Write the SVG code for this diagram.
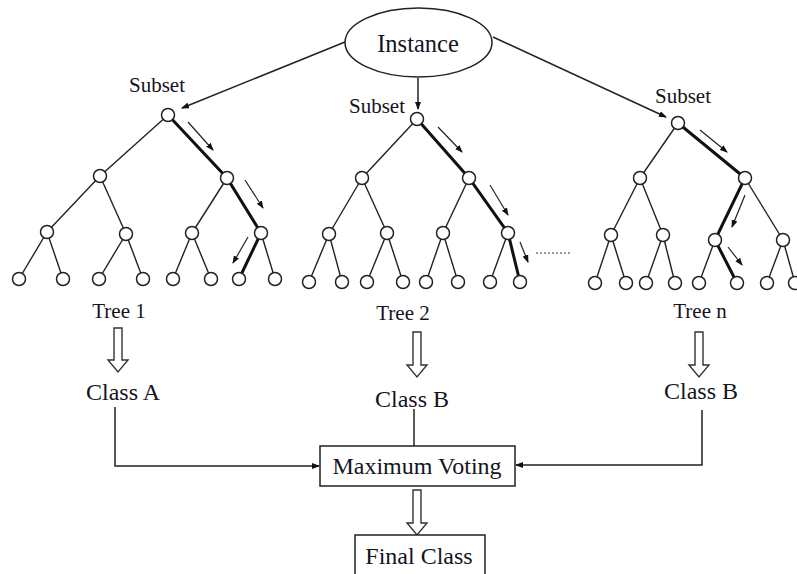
<svg xmlns="http://www.w3.org/2000/svg" width="797" height="574" viewBox="0 0 797 574">
<defs>
<style>
.t{font-family:"Liberation Serif","Times New Roman",serif;fill:#141420}
.e{stroke:#222;stroke-width:1.4;fill:none}
.k{stroke:#111;stroke-width:3;fill:none}
.n{fill:#fff;stroke:#222;stroke-width:1.5}
.s{stroke:#222;stroke-width:1.2;fill:none;marker-end:url(#sa)}
.c{stroke:#222;stroke-width:1.5;fill:none}
.h{fill:#fff;stroke:#333;stroke-width:1.4}
</style>
<marker id="sa" markerWidth="8" markerHeight="6" refX="7" refY="3" orient="auto" markerUnits="userSpaceOnUse">
<path d="M0,0 L8,3 L0,6 Z" fill="#111"/>
</marker>
<marker id="ca" markerWidth="8" markerHeight="6" refX="7" refY="3" orient="auto" markerUnits="userSpaceOnUse">
<path d="M0,0 L8,3 L0,6 Z" fill="#111"/>
</marker>
</defs>
<rect width="797" height="574" fill="#fff"/>

<g id="connectors">
<line class="c" x1="345" y1="42" x2="182" y2="108" marker-end="url(#ca)"/>
<line class="c" x1="418" y1="78" x2="418" y2="109" marker-end="url(#ca)"/>
<line class="c" x1="493" y1="37" x2="666" y2="117" marker-end="url(#ca)"/>
<polyline class="c" points="115,407 115,466 319,466" marker-end="url(#ca)"/>
<line class="c" x1="414" y1="409" x2="414" y2="446"/>
<polyline class="c" points="702,410 702,465 516,465" marker-end="url(#ca)"/>
<path class="h" d="M114,328 H122 V360 H128 L118,372 L108,360 H114 Z"/>
<path class="h" d="M413,332 H421 V365 H427 L417,377 L407,365 H413 Z"/>
<path class="h" d="M695,332 H703 V365 H709 L699,377 L689,365 H695 Z"/>
<path class="h" d="M413,490 H421 V523 H427 L417,535 L407,523 H413 Z"/>
<line x1="536" y1="253" x2="570" y2="253" stroke="#333" stroke-width="1.2" stroke-dasharray="2,2"/>
</g>

<g id="instance">
<ellipse cx="418.5" cy="42.5" rx="73.5" ry="34.5" fill="#fff" stroke="#222" stroke-width="1.5"/>
<text class="t" x="418" y="52" font-size="24.5" text-anchor="middle">Instance</text>
</g>

<g id="tree1">
<text class="t" x="157" y="92" font-size="21" text-anchor="middle">Subset</text>
<g class="e">
<line x1="168" y1="115" x2="100" y2="176"/>
<line x1="100" y1="176" x2="47" y2="232"/><line x1="100" y1="176" x2="126" y2="234"/>
<line x1="227" y1="178" x2="192" y2="233"/>
<line x1="47" y1="232" x2="19" y2="279"/><line x1="47" y1="232" x2="63" y2="279"/>
<line x1="126" y1="234" x2="99" y2="279"/><line x1="126" y1="234" x2="143" y2="279"/>
<line x1="192" y1="233" x2="173" y2="279"/><line x1="192" y1="233" x2="211" y2="279"/>
<line x1="261" y1="233" x2="275" y2="279"/>
</g>
<polyline class="k" points="168,115 227,178 261,233 239,279"/>
<g class="n">
<circle cx="168" cy="115" r="6.5"/>
<circle cx="100" cy="176" r="6.5"/><circle cx="227" cy="178" r="6.5"/>
<circle cx="47" cy="232" r="6.5"/><circle cx="126" cy="234" r="6.5"/><circle cx="192" cy="233" r="6.5"/><circle cx="261" cy="233" r="6.5"/>
<circle cx="19" cy="279" r="6.5"/><circle cx="63" cy="279" r="6.5"/><circle cx="99" cy="279" r="6.5"/><circle cx="143" cy="279" r="6.5"/>
<circle cx="173" cy="279" r="6.5"/><circle cx="211" cy="279" r="6.5"/><circle cx="239" cy="279" r="6.5"/><circle cx="275" cy="279" r="6.5"/>
</g>
<line class="s" x1="188" y1="122" x2="213" y2="150"/>
<line class="s" x1="245" y1="180" x2="263" y2="208"/>
<line class="s" x1="248" y1="237" x2="233" y2="263"/>
<text class="t" x="119" y="318" font-size="21" text-anchor="middle">Tree 1</text>
<text class="t" x="123" y="400" font-size="24" text-anchor="middle">Class A</text>
</g>

<g id="tree2">
<text class="t" x="377" y="113" font-size="21" text-anchor="middle">Subset</text>
<g class="e">
<line x1="417" y1="119" x2="362" y2="178"/>
<line x1="362" y1="178" x2="329" y2="234"/><line x1="362" y1="178" x2="387" y2="233"/>
<line x1="469" y1="178" x2="443" y2="233"/>
<line x1="329" y1="234" x2="309" y2="282"/><line x1="329" y1="234" x2="342" y2="282"/>
<line x1="387" y1="233" x2="367" y2="282"/><line x1="387" y1="233" x2="403" y2="282"/>
<line x1="443" y1="233" x2="426" y2="282"/><line x1="443" y1="233" x2="458" y2="282"/>
<line x1="508" y1="233" x2="490" y2="282"/>
</g>
<polyline class="k" points="417,119 469,178 508,233 520,282"/>
<g class="n">
<circle cx="417" cy="119" r="6.5"/>
<circle cx="362" cy="178" r="6.5"/><circle cx="469" cy="178" r="6.5"/>
<circle cx="329" cy="234" r="6.5"/><circle cx="387" cy="233" r="6.5"/><circle cx="443" cy="233" r="6.5"/><circle cx="508" cy="233" r="6.5"/>
<circle cx="309" cy="282" r="6.5"/><circle cx="342" cy="282" r="6.5"/><circle cx="367" cy="282" r="6.5"/><circle cx="403" cy="282" r="6.5"/>
<circle cx="426" cy="282" r="6.5"/><circle cx="458" cy="282" r="6.5"/><circle cx="490" cy="282" r="6.5"/><circle cx="520" cy="282" r="6.5"/>
</g>
<line class="s" x1="438" y1="127" x2="462" y2="152"/>
<line class="s" x1="490" y1="185" x2="508" y2="215"/>
<line class="s" x1="520" y1="242" x2="528" y2="262"/>
<text class="t" x="403" y="320" font-size="21" text-anchor="middle">Tree 2</text>
<text class="t" x="412" y="407" font-size="24" text-anchor="middle">Class B</text>
</g>

<g id="treen">
<text class="t" x="683" y="103" font-size="21" text-anchor="middle">Subset</text>
<g class="e">
<line x1="678" y1="123" x2="640" y2="178"/>
<line x1="640" y1="178" x2="611" y2="235"/><line x1="640" y1="178" x2="663" y2="235"/>
<line x1="745" y1="178" x2="783" y2="240"/>
<line x1="611" y1="235" x2="595" y2="283"/><line x1="611" y1="235" x2="626" y2="283"/>
<line x1="663" y1="235" x2="646" y2="283"/><line x1="663" y1="235" x2="675" y2="283"/>
<line x1="715" y1="240" x2="699" y2="283"/>
<line x1="783" y1="240" x2="767" y2="283"/><line x1="783" y1="240" x2="795" y2="283"/>
</g>
<polyline class="k" points="678,123 745,178 715,240 737,283"/>
<g class="n">
<circle cx="678" cy="123" r="6.5"/>
<circle cx="640" cy="178" r="6.5"/><circle cx="745" cy="178" r="6.5"/>
<circle cx="611" cy="235" r="6.5"/><circle cx="663" cy="235" r="6.5"/><circle cx="715" cy="240" r="6.5"/><circle cx="783" cy="240" r="6.5"/>
<circle cx="595" cy="283" r="6.5"/><circle cx="626" cy="283" r="6.5"/><circle cx="646" cy="283" r="6.5"/><circle cx="675" cy="283" r="6.5"/>
<circle cx="699" cy="283" r="6.5"/><circle cx="737" cy="283" r="6.5"/><circle cx="767" cy="283" r="6.5"/><circle cx="795" cy="283" r="6.5"/>
</g>
<line class="s" x1="700" y1="130" x2="727" y2="152"/>
<line class="s" x1="745" y1="195" x2="732" y2="227"/>
<line class="s" x1="728" y1="247" x2="742" y2="265"/>
<text class="t" x="700" y="318" font-size="21" text-anchor="middle">Tree n</text>
<text class="t" x="701" y="399" font-size="24" text-anchor="middle">Class B</text>
</g>

<g id="voting">
<rect x="320" y="446" width="195" height="40" fill="#fff" stroke="#222" stroke-width="1.5"/>
<text class="t" x="417" y="474" font-size="24" text-anchor="middle">Maximum Voting</text>
</g>

<g id="final">
<rect x="355" y="535" width="130" height="45" fill="#fff" stroke="#222" stroke-width="1.5"/>
<text class="t" x="419" y="564" font-size="24" text-anchor="middle">Final Class</text>
</g>
</svg>
